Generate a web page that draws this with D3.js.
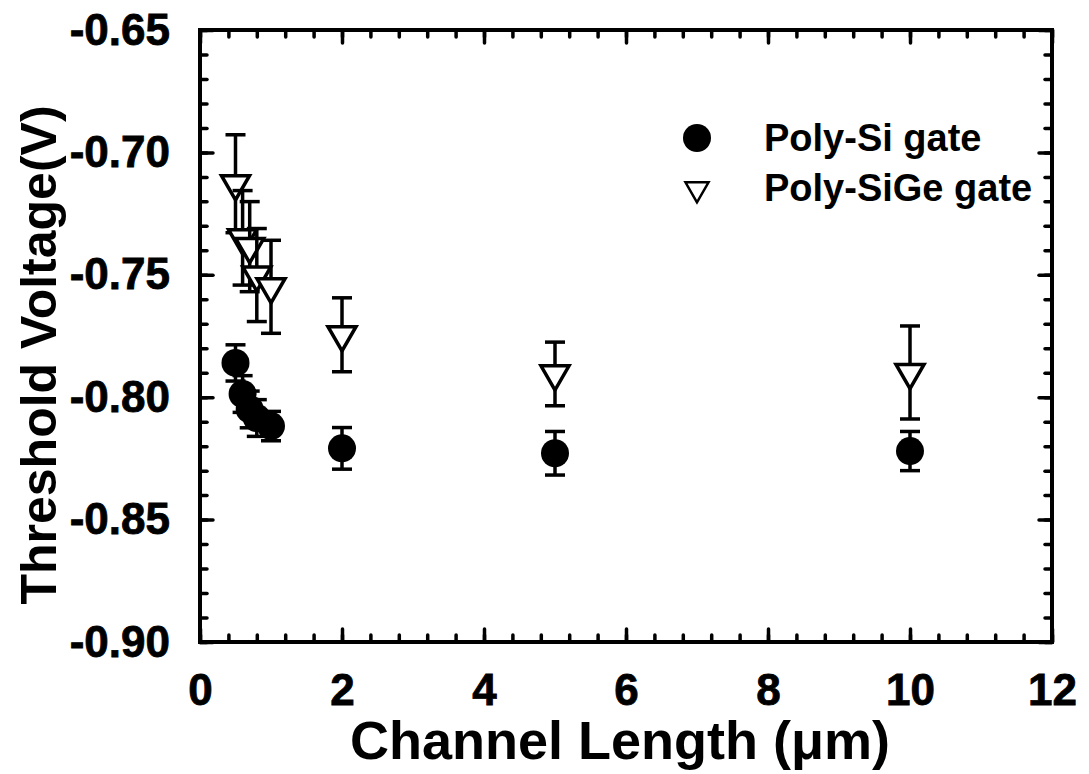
<!DOCTYPE html>
<html>
<head>
<meta charset="utf-8">
<script src="https://cdn.jsdelivr.net/npm/d3@7"></script>
<style>
  html, body { margin: 0; padding: 0; background: #fff; }
  svg text { font-family: "Liberation Sans", Arial, sans-serif; font-weight: bold; fill: #000; }
</style>
</head>
<body>
<svg id="chart" width="1089" height="774"></svg>
<script>
// ---- data ----
const lengthsSi = [0.5, 0.6, 0.7, 0.8, 1.0, 2, 5, 10];
const vtSi      = [-0.786, -0.7987, -0.805, -0.8085, -0.8118, -0.8209, -0.8229, -0.822];
const errSi     = [0.0074, 0.0075, 0.0075, 0.0075, 0.006, 0.0085, 0.0089, 0.008];

const lengthsSiGe = [0.5, 0.6, 0.7, 0.8, 1.0, 2, 5, 10];
const vtSiGe      = [-0.7128, -0.7349, -0.7385, -0.7501, -0.7549, -0.7745, -0.7905, -0.7899];
const errSiGe     = [0.020, 0.0193, 0.0184, 0.019, 0.019, 0.0151, 0.013, 0.019];

const xTicks = [0, 2, 4, 6, 8, 10, 12];
const yTicks = [-0.90, -0.85, -0.80, -0.75, -0.70, -0.65];
const seriesNames = ["Poly-Si gate", "Poly-SiGe gate"];

// ---- layout ----
const L = 200, R = 1052, T = 30, B = 642;
const svg = d3.select("#chart");
const x = d3.scaleLinear().domain([0, 12]).range([L, R]);
const y = d3.scaleLinear().domain([-0.90, -0.65]).range([B, T]);

const xMinor = d3.range(0, 12.0001, 0.4).map(v => +v.toFixed(2));
const yMinor = d3.range(-0.90, -0.6499, 0.01).map(v => +v.toFixed(3));

function styleAxis(g) {
  g.select(".domain").remove();
  g.selectAll(".tick line").attr("stroke", "#000").attr("stroke-width", 3.5).attr("stroke-linecap", "round");
}
function styleLabels(g) {
  g.selectAll("text").attr("font-size", 44).attr("font-weight", "bold")
    .attr("font-family", "Liberation Sans, Arial, sans-serif").attr("fill", "#000")
    .attr("stroke", "#000").attr("stroke-width", 0.8);
}
// minor ticks on all sides
svg.append("g").attr("transform", `translate(0,${B})`)
  .call(d3.axisBottom(x).tickValues(xMinor).tickSize(-7).tickFormat("")).call(styleAxis);
svg.append("g").attr("transform", `translate(0,${T})`)
  .call(d3.axisTop(x).tickValues(xMinor).tickSize(-7).tickFormat("")).call(styleAxis);
svg.append("g").attr("transform", `translate(${L},0)`)
  .call(d3.axisLeft(y).tickValues(yMinor).tickSize(-7).tickFormat("")).call(styleAxis);
svg.append("g").attr("transform", `translate(${R},0)`)
  .call(d3.axisRight(y).tickValues(yMinor).tickSize(-7).tickFormat("")).call(styleAxis);
// major ticks
const xAx = svg.append("g").attr("transform", `translate(0,${B})`)
  .call(d3.axisBottom(x).tickValues(xTicks).tickSize(-13).tickPadding(32).tickFormat(d3.format("d")));
styleAxis(xAx); styleLabels(xAx);
svg.append("g").attr("transform", `translate(0,${T})`)
  .call(d3.axisTop(x).tickValues(xTicks).tickSize(-13).tickFormat("")).call(styleAxis);
const yAx = svg.append("g").attr("transform", `translate(${L},0)`)
  .call(d3.axisLeft(y).tickValues(yTicks).tickSize(-13).tickPadding(30)
    .tickFormat(d => d.toFixed(2).replace("\u2212", "-")));
styleAxis(yAx); styleLabels(yAx);
svg.append("g").attr("transform", `translate(${R},0)`)
  .call(d3.axisRight(y).tickValues(yTicks).tickSize(-13).tickFormat("")).call(styleAxis);

// frame
svg.append("rect").attr("x", L).attr("y", T).attr("width", R - L).attr("height", B - T)
  .attr("fill", "none").attr("stroke", "#000").attr("stroke-width", 4);

// axis titles
svg.append("text").attr("x", 620).attr("y", 759).attr("text-anchor", "middle")
  .attr("font-size", 54).text("Channel Length (\u03BCm)");
svg.append("text").attr("transform", "translate(56,355) rotate(-90)").attr("text-anchor", "middle")
  .attr("font-size", 50).text("Threshold Voltage(V)");

// markers
const triPath = d3.symbol().type(d3.symbolTriangle).size(340)();
const triLegend = d3.symbol().type(d3.symbolTriangle).size(230)();
const capW = 10;

function drawSeries(xs, ys, es, kind) {
  const g = svg.append("g");
  xs.forEach((xv, i) => {
    const cx = x(xv), y1 = y(ys[i] + es[i]), y2 = y(ys[i] - es[i]);
    const eg = g.append("g").attr("stroke", "#000").attr("stroke-width", 3.5);
    eg.append("line").attr("x1", cx).attr("x2", cx).attr("y1", y1).attr("y2", y2);
    eg.append("line").attr("x1", cx - capW).attr("x2", cx + capW).attr("y1", y1).attr("y2", y1);
    eg.append("line").attr("x1", cx - capW).attr("x2", cx + capW).attr("y1", y2).attr("y2", y2);
    if (kind === "circle") {
      g.append("circle").attr("cx", cx).attr("cy", y(ys[i])).attr("r", 14).attr("fill", "#000");
    } else {
      g.append("path").attr("d", triPath)
        .attr("transform", `translate(${cx},${y(ys[i])}) rotate(180)`)
        .attr("fill", "#fff").attr("stroke", "#000").attr("stroke-width", 3.5);
    }
  });
}
drawSeries(lengthsSiGe, vtSiGe, errSiGe, "tri");
drawSeries(lengthsSi, vtSi, errSi, "circle");

// legend
const lg = svg.append("g");
lg.append("circle").attr("cx", 697).attr("cy", 138).attr("r", 14).attr("fill", "#000");
lg.append("path").attr("d", triLegend).attr("transform", "translate(697,189) rotate(180)")
  .attr("fill", "#fff").attr("stroke", "#000").attr("stroke-width", 2.5);
lg.append("text").attr("x", 764).attr("y", 151).attr("font-size", 38).text(seriesNames[0]);
lg.append("text").attr("x", 764).attr("y", 201).attr("font-size", 38).text(seriesNames[1]);
</script>
</body>
</html>
